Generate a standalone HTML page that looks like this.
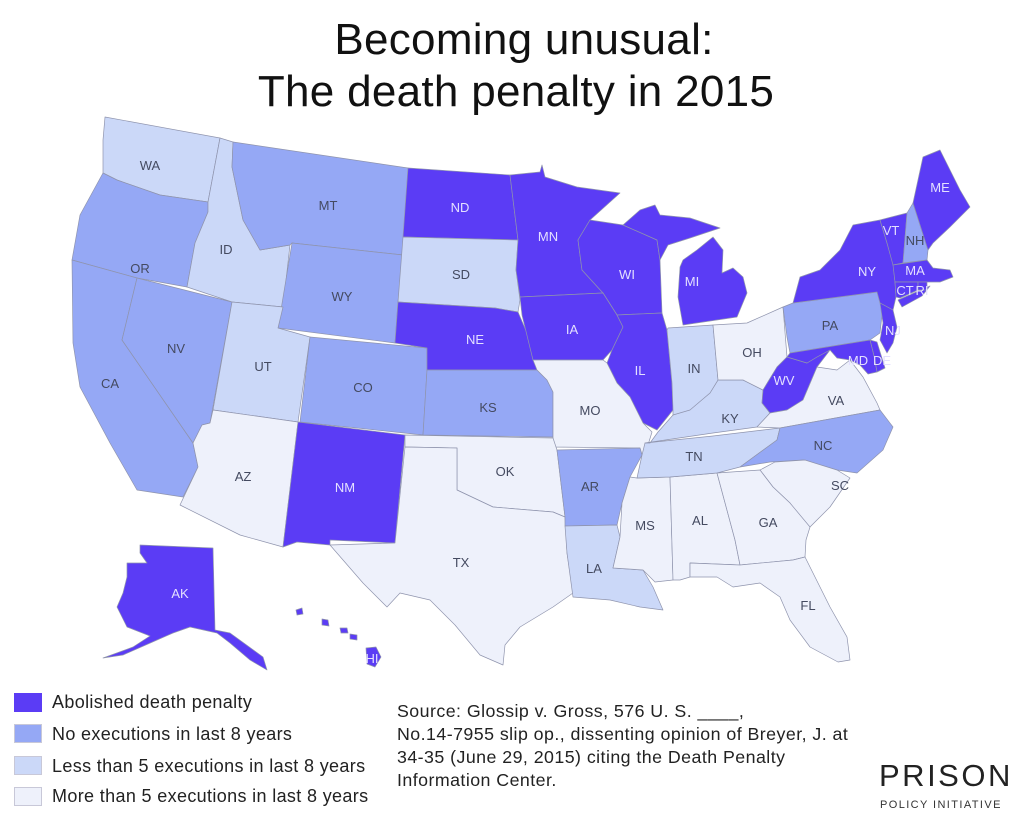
<!DOCTYPE html>
<html><head><meta charset="utf-8">
<style>
html,body{margin:0;padding:0;background:#fff;}
body{width:1024px;height:828px;position:relative;overflow:hidden;font-family:"Liberation Sans",sans-serif;}
.t{position:absolute;left:0;width:1024px;text-align:center;font-size:44px;color:#111;letter-spacing:0.3px;}
.lg{position:absolute;left:14px;font-size:18px;color:#222;letter-spacing:0.35px;}
.sw{position:absolute;left:14px;width:28px;height:19px;border:1px solid #c8c8d8;box-sizing:border-box;}
.src{position:absolute;left:397px;top:700px;font-size:17.8px;line-height:23px;color:#222;letter-spacing:0.45px;}
</style></head>
<body>
<div class="t" style="top:15px;left:12px">Becoming unusual:</div>
<div class="t" style="top:67px;left:4px">The death penalty in 2015</div>
<svg id="map" width="1024" height="828" style="position:absolute;left:0;top:0"></svg>

<div class="sw" style="top:693px;background:#5b3cf5;border-color:#5b3cf5"></div>
<div class="lg" style="left:52px;top:692px">Abolished death penalty</div>
<div class="sw" style="top:724px;background:#95a8f5"></div>
<div class="lg" style="left:52px;top:724px">No executions in last 8 years</div>
<div class="sw" style="top:756px;background:#cbd8f8"></div>
<div class="lg" style="left:52px;top:756px">Less than 5 executions in last 8 years</div>
<div class="sw" style="top:787px;background:#eef1fb"></div>
<div class="lg" style="left:52px;top:786px">More than 5 executions in last 8 years</div>

<div class="src">Source: Glossip v. Gross, 576 U. S. ____,<br>No.14-7955 slip op., dissenting opinion of Breyer, J. at<br>34-35 (June 29, 2015) citing the Death Penalty<br>Information Center.</div>

<div style="position:absolute;left:879px;top:758px;font-size:31px;letter-spacing:2.5px;color:#222">PRISON</div>
<div style="position:absolute;left:880px;top:799px;font-size:11px;letter-spacing:1.4px;color:#333">POLICY INITIATIVE</div>

<script>
const states=["WA","OR","CA","NV","ID","MT","WY","UT","CO","AZ","NM","ND","SD","NE","KS","MN","WI","IA","IL","MO","OK","TX","AR","LA","MS","AL","TN","KY","IN","OH","WV","VA","NC","SC","GA","FL","MI","PA","NY","VT","NH","ME","MA","CT","RI","NJ","DE","MD","AK","HI"];
const status=[2,1,1,1,2,1,1,2,1,3,0,0,2,0,1,0,0,0,0,3,3,3,1,2,3,3,2,2,2,3,0,3,1,3,3,3,0,1,0,0,1,0,0,0,0,0,0,0,0,0];
const fills=["#5b3cf5","#95a8f5","#cbd8f8","#eef1fb"];
const textCols=["#e4e0ff","#444a60","#444a60","#444a60"];
const shapes={
WA:[[[105,117],[220,138],[208,202],[160,195],[117,180],[103,173],[103,140]]],
OR:[[[103,173],[117,180],[160,195],[208,202],[208,212],[195,243],[187,287],[137,278],[72,260],[80,215]]],
CA:[[[72,260],[137,278],[122,340],[193,443],[198,467],[183,497],[137,490],[110,443],[80,387],[73,343]]],
NV:[[[137,278],[232,302],[210,423],[202,425],[193,443],[122,340]]],
ID:[[[220,138],[233,142],[232,167],[243,220],[260,250],[290,245],[283,307],[232,302],[187,287],[195,243],[208,212],[208,202]]],
MT:[[[233,142],[408,168],[403,255],[292,243],[290,245],[260,250],[243,220],[232,167]]],
WY:[[[292,243],[403,255],[398,302],[395,343],[278,328]]],
UT:[[[232,302],[283,307],[278,328],[310,337],[298,422],[213,410]]],
CO:[[[310,337],[427,348],[427,370],[423,435],[300,422]]],
AZ:[[[210,423],[213,410],[298,422],[283,547],[240,535],[180,505],[198,467],[193,443],[202,425]]],
NM:[[[298,422],[405,435],[395,543],[330,540],[330,545],[297,542],[283,547]]],
ND:[[[408,168],[510,175],[518,240],[403,237]]],
SD:[[[403,237],[518,240],[516,270],[520,300],[518,312],[495,308],[398,302]]],
NE:[[[398,302],[495,308],[518,312],[530,340],[537,370],[427,370],[427,348],[395,343]]],
KS:[[[427,370],[537,370],[547,380],[553,392],[553,437],[423,435]]],
MN:[[[510,175],[540,172],[542,165],[545,177],[577,187],[620,193],[590,220],[578,240],[582,270],[603,293],[520,297],[516,270],[518,240]]],
WI:[[[590,220],[623,225],[657,240],[660,260],[662,313],[617,315],[603,293],[582,270],[578,240]]],
IA:[[[520,297],[603,293],[617,315],[623,327],[612,350],[603,360],[533,360],[522,315]]],
IL:[[[617,315],[662,313],[667,330],[672,383],[673,410],[657,430],[643,423],[630,397],[617,383],[607,363],[612,350],[623,327]]],
MO:[[[533,360],[603,360],[607,363],[617,383],[630,397],[643,423],[652,432],[648,445],[642,455],[640,448],[553,447],[553,392],[547,380],[537,370]]],
OK:[[[405,435],[553,438],[557,450],[565,517],[553,512],[493,507],[457,490],[457,448],[405,447]]],
TX:[[[405,447],[457,448],[457,490],[493,507],[553,512],[565,517],[567,553],[573,593],[553,607],[520,627],[505,645],[503,665],[480,655],[455,625],[430,600],[400,593],[387,607],[363,583],[330,545],[395,543]]],
AR:[[[557,450],[640,448],[642,455],[630,477],[622,503],[617,525],[565,526],[565,517]]],
LA:[[[565,526],[617,525],[620,537],[613,568],[643,570],[653,587],[663,610],[640,607],[610,600],[573,597],[567,553]]],
MS:[[[637,478],[670,477],[673,580],[655,582],[643,570],[613,568],[620,537],[622,503],[630,477]]],
AL:[[[670,477],[717,473],[735,540],[740,565],[690,563],[690,577],[680,580],[673,580]]],
TN:[[[645,443],[713,436],[780,428],[777,440],[740,467],[717,473],[670,477],[637,478],[642,455]]],
KY:[[[650,443],[658,432],[673,415],[693,407],[710,393],[718,380],[743,380],[763,390],[762,403],[770,413],[757,427],[713,433],[645,443]]],
IN:[[[668,328],[713,325],[718,380],[710,393],[690,410],[673,415],[673,410],[672,383],[667,330]]],
OH:[[[713,325],[747,323],[783,307],[787,357],[777,367],[763,390],[743,380],[718,380]]],
WV:[[[762,403],[763,390],[777,367],[787,357],[807,363],[817,357],[830,350],[817,367],[803,400],[787,410],[770,413]]],
VA:[[[757,427],[770,413],[787,410],[803,400],[817,367],[837,370],[850,360],[863,377],[877,403],[880,410],[780,428]]],
NC:[[[780,428],[880,410],[893,427],[883,450],[857,473],[837,470],[803,460],[770,462],[740,467],[777,440]]],
SC:[[[760,470],[775,462],[805,460],[837,470],[850,478],[830,507],[810,527],[803,527],[790,503],[773,487]]],
GA:[[[717,473],[760,470],[773,487],[790,503],[810,527],[806,540],[805,557],[793,560],[740,565],[735,540]]],
FL:[[[690,563],[740,565],[793,560],[805,557],[830,607],[847,637],[850,660],[838,662],[810,647],[790,620],[780,597],[760,583],[733,587],[717,577],[690,577]]],
MI:[[[623,225],[640,210],[655,205],[660,215],[690,218],[720,228],[690,238],[668,245],[660,260],[657,240]],[[683,260],[697,250],[713,237],[723,250],[722,273],[733,268],[743,277],[747,293],[737,317],[683,325],[678,297],[680,267]]],
PA:[[[783,307],[793,303],[877,292],[883,307],[880,333],[870,340],[790,353],[787,337]]],
NY:[[[793,303],[800,277],[820,270],[840,250],[853,225],[880,220],[887,243],[893,263],[895,282],[896,297],[893,310],[880,303],[877,292]],[[898,300],[930,286],[922,296],[902,307]]],
VT:[[[880,220],[907,213],[903,263],[893,265],[887,243]]],
NH:[[[907,213],[913,203],[928,250],[927,260],[903,263]]],
ME:[[[913,203],[923,157],[940,150],[960,190],[970,207],[950,227],[933,243],[928,250]]],
MA:[[[893,265],[927,260],[933,268],[950,270],[953,277],[940,282],[927,282],[895,282]]],
CT:[[[895,282],[918,282],[918,290],[900,298],[896,297]]],
RI:[[[918,282],[927,282],[927,290],[918,290]]],
NJ:[[[880,303],[893,310],[897,327],[893,343],[887,353],[880,340],[883,323]]],
DE:[[[870,340],[877,342],[885,368],[877,372],[874,356]]],
MD:[[[790,353],[870,340],[874,356],[877,372],[868,374],[860,365],[850,360],[837,358],[830,350],[817,357],[807,363],[787,357]]],
AK:[[[140,545],[213,548],[215,630],[230,633],[263,657],[267,670],[250,660],[230,643],[217,633],[190,627],[173,633],[157,640],[123,655],[103,658],[133,647],[150,636],[127,627],[117,607],[123,593],[127,577],[127,563],[147,563],[140,553]]],
HI:[[[296,610],[302,608],[303,614],[297,615]],[[322,619],[328,620],[329,626],[322,625]],[[340,628],[347,628],[348,633],[341,633]],[[350,634],[357,635],[357,640],[350,639]],[[366,648],[376,647],[381,657],[375,667],[367,664]]]
};
const labelPos={WA:[150,165],OR:[140,268],CA:[110,383],NV:[176,348],ID:[226,249],MT:[328,205],WY:[342,296],UT:[263,366],CO:[363,387],AZ:[243,476],NM:[345,487],ND:[460,207],SD:[461,274],NE:[475,339],KS:[488,407],MN:[548,236],WI:[627,274],IA:[572,329],IL:[640,370],MO:[590,410],OK:[505,471],TX:[461,562],AR:[590,486],LA:[594,568],MS:[645,525],AL:[700,520],TN:[694,456],KY:[730,418],IN:[694,368],OH:[752,352],WV:[784,380],VA:[836,400],NC:[823,445],SC:[840,485],GA:[768,522],FL:[808,605],MI:[692,281],PA:[830,325],NY:[867,271],VT:[891,230],NH:[915,240],ME:[940,187],MA:[915,270],CT:[905,290],RI:[922,290],NJ:[893,330],DE:[882,360],MD:[858,360],AK:[180,593],HI:[372,658]};
const svg=document.getElementById('map');
const NS='http://www.w3.org/2000/svg';
states.forEach((s,i)=>{
  const g=document.createElementNS(NS,'g');
  
  
  shapes[s].forEach(poly=>{
    const p=document.createElementNS(NS,'polygon');
    p.setAttribute('points',poly.map(q=>q.join(',')).join(' '));
    p.setAttribute('fill',fills[status[i]]);
    p.setAttribute('stroke','#8f94ad');
    p.setAttribute('stroke-width','0.7');
    p.setAttribute('stroke-linejoin','round');
    
    
    g.appendChild(p);
  });
  svg.appendChild(g);
});
states.forEach((s,i)=>{
  const t=document.createElementNS(NS,'text');
  t.setAttribute('x',labelPos[s][0]);
  t.setAttribute('y',labelPos[s][1]+5);
  t.setAttribute('text-anchor','middle');
  t.setAttribute('font-size','13');
  t.setAttribute('font-family','Liberation Sans, sans-serif');
  t.setAttribute('fill',textCols[status[i]]);
  t.textContent=s;
  
  
  svg.appendChild(t);
});
</script>
</body></html>
